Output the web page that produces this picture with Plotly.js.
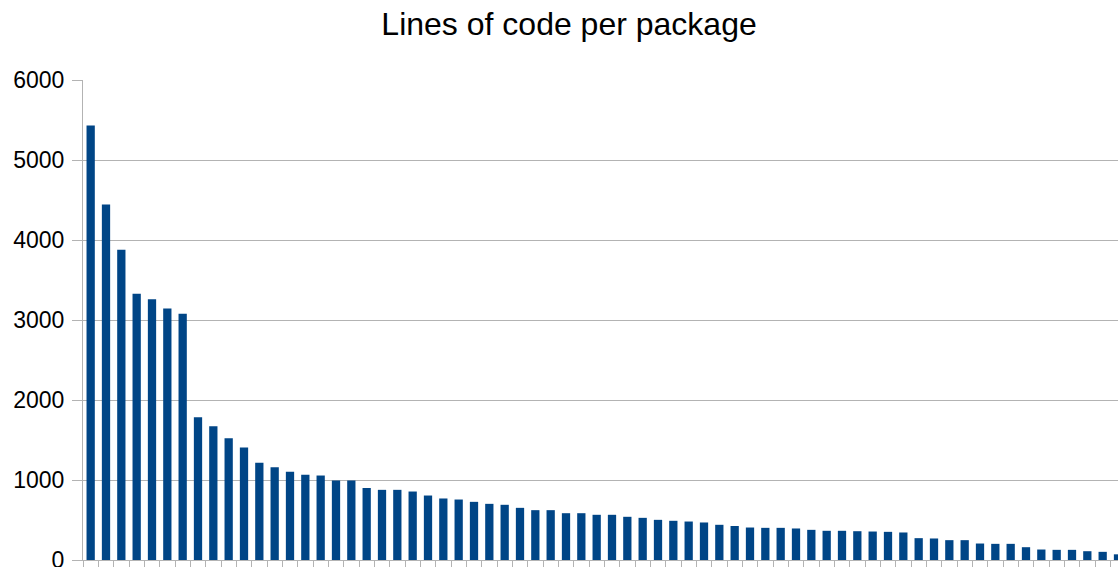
<!DOCTYPE html>
<html>
<head>
<meta charset="utf-8">
<script src="https://cdn.plot.ly/plotly-3.0.1.min.js"></script>
<style>html,body{margin:0;padding:0;background:#fff;}#chart{width:1118px;height:567px;}</style>
</head>
<body>
<div id="chart"></div>
<script>
const chartTitle = "Lines of code per package";
const linesOfCode = [
  5431, 4444, 3877, 3327, 3260, 3144, 3077, 1785, 1673, 1523,
  1406, 1215, 1160, 1102, 1065, 1056, 994, 994, 900, 877,
  877, 856, 806, 769, 756, 727, 702, 690, 652, 623,
  623, 585, 585, 565, 565, 540, 527, 502, 490, 481,
  469, 440, 425, 406, 402, 402, 394, 377, 365, 365,
  360, 356, 352, 344, 273, 269, 248, 248, 206, 202,
  202, 160, 131, 127, 127, 110, 102, 71
];
const packages = linesOfCode.map((_, i) => "Package " + (i + 1));
const yTicks = [0, 1000, 2000, 3000, 4000, 5000, 6000];

const trace = {
  type: "bar",
  x: packages,
  y: linesOfCode,
  marker: {color: "#004586", line: {width: 0}},
  hoverinfo: "x+y"
};

const layout = {
  width: 1118, height: 567,
  margin: {l: 83, r: 0, t: 80, b: 7, pad: 0},
  paper_bgcolor: "#ffffff", plot_bgcolor: "#ffffff",
  showlegend: false,
  bargap: 0.46,
  font: {family: "Liberation Sans, Arial, sans-serif", color: "#000000"},
  title: {
    text: chartTitle,
    font: {family: "Liberation Sans, Arial, sans-serif", size: 32, color: "#000000"},
    xref: "container", x: 0.509, xanchor: "center",
    yref: "container", y: 0.958, yanchor: "middle"
  },
  xaxis: {
    type: "category",
    range: [-0.5, 67.0],
    showticklabels: false,
    ticks: "outside", tickson: "boundaries", ticklen: 6, tickcolor: "#b3b3b3", tickwidth: 1,
    showline: true, linecolor: "#b3b3b3", linewidth: 1,
    showgrid: false, zeroline: false, fixedrange: true
  },
  yaxis: {
    range: [0, 6000],
    tickvals: yTicks,
    ticktext: yTicks.map(String),
    ticks: "outside", ticklen: 10, tickcolor: "#b3b3b3", tickwidth: 1,
    ticklabelstandoff: 3,
    ticklabeloverflow: "allow",
    tickfont: {family: "Liberation Sans, Arial, sans-serif", size: 23, color: "#000000"},
    showline: true, linecolor: "#b3b3b3", linewidth: 1,
    showgrid: true, gridcolor: "#b3b3b3", gridwidth: 1,
    zeroline: false, fixedrange: true
  }
};

Plotly.newPlot("chart", [trace], layout, {staticPlot: true, displayModeBar: false});
</script>
</body>
</html>
